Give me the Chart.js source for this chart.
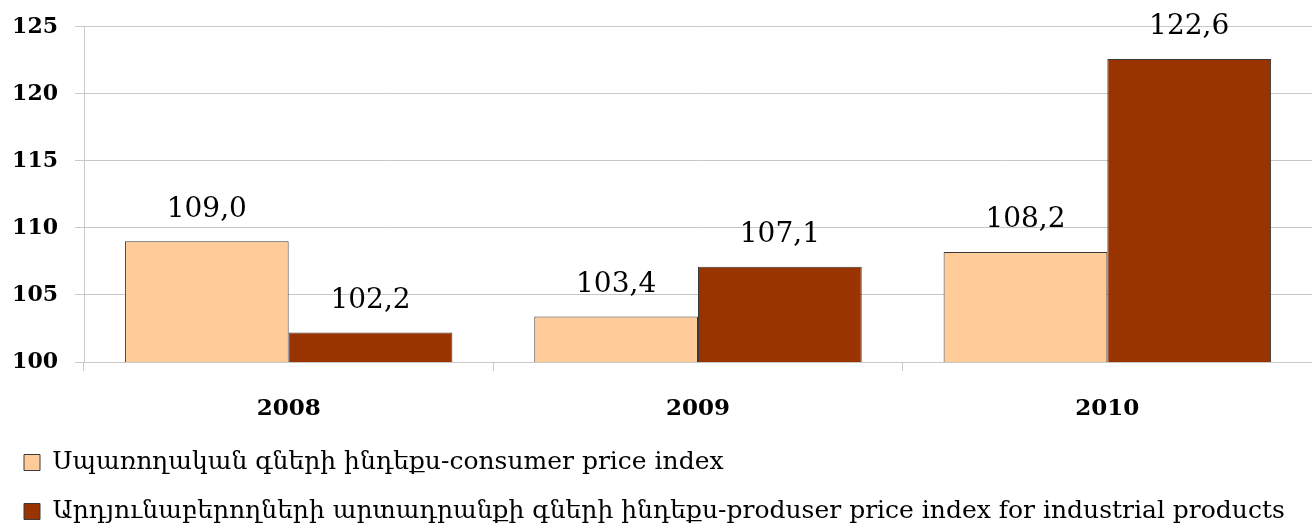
<html lang="hy">
<head>
<meta charset="UTF-8">
<title>Price indices</title>
<style>
  body { margin: 0; background: #fff; }
  #wrap { width: 1312px; height: 529px; }
</style>
</head>
<body>
<div id="wrap"><canvas id="priceChart"></canvas></div>
<script src="https://cdn.jsdelivr.net/npm/chart.js@4.4.0/dist/chart.umd.min.js"></script>
<script>
const years = ['2008', '2009', '2010'];
const consumerIdx = [109.0, 103.4, 108.2];
const producerIdx = [102.2, 107.1, 122.6];
const consumerName = 'Սպառողական գների ինդեքս-consumer price index';
const producerName = 'Արդյունաբերողների արտադրանքի գների ինդեքս-produser price index for industrial products';

// numbers above the bars, comma as decimal sign
const valueLabels = {
  id: 'valueLabels',
  afterDatasetsDraw(chart) {
    const ctx = chart.ctx;
    ctx.save();
    ctx.font = '28px "DejaVu Serif"';
    ctx.fillStyle = '#000';
    ctx.textAlign = 'center';
    ctx.textBaseline = 'middle';
    chart.data.datasets.forEach((ds, i) => {
      chart.getDatasetMeta(i).data.forEach((bar, j) => {
        ctx.fillText(ds.data[j].toFixed(1).replace('.', ','), bar.x, bar.y - 32);
      });
    });
    ctx.restore();
  }
};

const ctx = document.getElementById('priceChart').getContext('2d');
new Chart(ctx, {
  type: 'bar',
  data: {
    labels: years,
    datasets: [{
      label: consumerName,
      data: consumerIdx,
      backgroundColor: '#FFCC99',
      borderColor: '#3a3a3a',
      borderWidth: 1,
      barPercentage: 1.0,
      categoryPercentage: 0.8
    }, {
      label: producerName,
      data: producerIdx,
      backgroundColor: '#993300',
      borderColor: '#3a3a3a',
      borderWidth: 1,
      barPercentage: 1.0,
      categoryPercentage: 0.8
    }]
  },
  options: {
    responsive: true,
    maintainAspectRatio: false,
    animation: false,
    layout: { padding: { top: 4, right: 0, left: 0, bottom: -5 } },
    scales: {
      x: {
        afterFit(scale) { scale.height = 64; },
        grid: { display: true, drawOnChartArea: false, drawTicks: true, tickLength: 9, color: '#c8c8c8', offset: true },
        border: { color: '#c8c8c8' },
        ticks: { color: '#000', font: { family: 'DejaVu Serif', size: 23, weight: 'bold' }, padding: 24 }
      },
      y: {
        min: 100,
        max: 125,
        afterFit(scale) { scale.width = 84; },
        grid: { color: '#c8c8c8', tickLength: 9 },
        border: { color: '#c8c8c8' },
        ticks: { stepSize: 5, color: '#000', font: { family: 'DejaVu Serif', size: 22, weight: 'bold', lineHeight: 0.9 }, padding: 17 }
      }
    },
    plugins: {
      legend: {
        position: 'bottom',
        align: 'start',
        labels: {
          color: '#000',
          font: { family: 'DejaVu Serif', size: 25 },
          boxWidth: 16,
          boxHeight: 16,
          padding: 24
        }
      },
      tooltip: { enabled: false }
    }
  },
  plugins: [valueLabels]
});
</script>
</body>
</html>
